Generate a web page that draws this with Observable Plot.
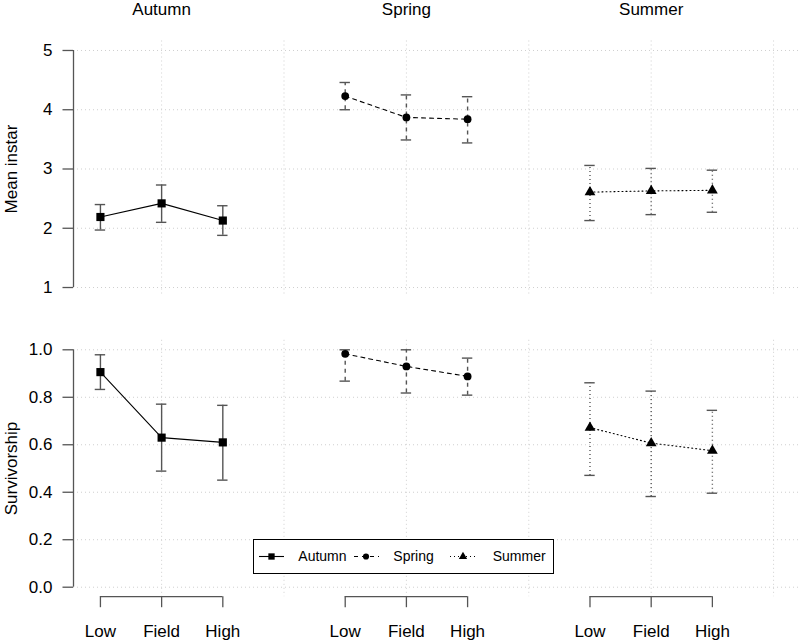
<!DOCTYPE html>
<html>
<head>
<meta charset="utf-8">
<script src="https://cdn.jsdelivr.net/npm/d3@7"></script>
<script src="https://cdn.jsdelivr.net/npm/@observablehq/plot@0.6"></script>
<style>
  body { margin: 0; background: #fff; }
  #wrap { position: relative; width: 800px; height: 641px; overflow: hidden; }
  #wrap svg { display: block; }
  #legend { position: absolute; left: 0; top: 0; }
</style>
</head>
<body>
<div id="wrap"></div>
<script>
// ---- data ----
const seasons = ["Autumn", "Spring", "Summer"];
const treatments = ["Low", "Field", "High"];
const xPositions = [1, 2, 3, 5, 6, 7, 9, 10, 11];

const instarMean  = [2.19, 2.42, 2.13, 4.23, 3.87, 3.84, 2.61, 2.63, 2.64];
const instarLower = [1.97, 2.10, 1.88, 4.00, 3.49, 3.44, 2.13, 2.23, 2.27];
const instarUpper = [2.40, 2.73, 2.38, 4.46, 4.25, 4.22, 3.06, 3.01, 2.98];

const survMean  = [0.906, 0.630, 0.610, 0.983, 0.930, 0.888, 0.672, 0.607, 0.575];
const survLower = [0.833, 0.489, 0.451, 0.868, 0.818, 0.809, 0.471, 0.382, 0.396];
const survUpper = [0.979, 0.771, 0.766, 1.000, 1.000, 0.965, 0.861, 0.826, 0.745];

const instarTicks = [1, 2, 3, 4, 5];
const survTicks = [0, 0.2, 0.4, 0.6, 0.8, 1.0];
const survTickLabels = ["0.0", "0.2", "0.4", "0.6", "0.8", "1.0"];
const gridXTicks = [2, 4, 6, 8, 10, 12];

// ---- styles ----
const font = "'Liberation Sans', Arial, Helvetica, sans-serif";
const gridColor = "#cfcfcf";
const axisColor = "#555";
const barColor = "#555";
const dash = {Autumn: undefined, Spring: "4,4", Summer: "1,3"};
const sym = {Autumn: "square", Spring: "circle", Summer: "triangle"};
const rad = {Autumn: 4.6, Spring: 3.9, Summer: 4.0};
const xDomain = [0.56, 12.44];
const capHalf = 0.085;

function rowsFor(mean, lower, upper) {
  return xPositions.map((x, i) => ({
    x, season: seasons[Math.floor(i / 3)], treatment: treatments[i % 3],
    mean: mean[i], lower: lower[i], upper: upper[i]
  }));
}

function panel({rows, yDomain, yTicks, yTickFormat, yLabel, height, marginTop, marginBottom, isTop}) {
  const marks = [
    Plot.ruleY(yTicks, {stroke: gridColor, strokeDasharray: "1,3", strokeWidth: 1}),
    Plot.ruleX(gridXTicks, {stroke: gridColor, strokeDasharray: "1,3", strokeWidth: 1})
  ];
  for (const s of seasons) {
    const d = rows.filter(r => r.season === s);
    marks.push(Plot.ruleX(d, {x: "x", y1: "lower", y2: "upper", stroke: barColor, strokeWidth: 1.4, strokeDasharray: dash[s]}));
    marks.push(Plot.ruleY(d, {y: "lower", x1: r => r.x - capHalf, x2: r => r.x + capHalf, stroke: barColor, strokeWidth: 1.4}));
    marks.push(Plot.ruleY(d, {y: "upper", x1: r => r.x - capHalf, x2: r => r.x + capHalf, stroke: barColor, strokeWidth: 1.4}));
    marks.push(Plot.line(d, {x: "x", y: "mean", stroke: "black", strokeWidth: 1.1, strokeDasharray: dash[s]}));
    marks.push(Plot.dot(d, {x: "x", y: "mean", symbol: sym[s], r: rad[s], fill: "black", stroke: null}));
  }
  // y axis
  marks.push(Plot.ruleX([xDomain[0]], {y1: yTicks[0], y2: yTicks[yTicks.length - 1], stroke: axisColor, strokeWidth: 1.3}));
  marks.push(Plot.axisY(yTicks, {anchor: "left", tickSize: 10.5, tickPadding: 10.5, tickFormat: yTickFormat, label: null,
    stroke: axisColor, strokeWidth: 1.3, fill: "black", fontSize: 17}));
  marks.push(Plot.text([yLabel], {text: d => d, frameAnchor: "left", textAnchor: "middle", dx: -57, rotate: -90,
    lineAnchor: "bottom", fontSize: 17, fill: "black"}));

  if (isTop) {
    const titles = seasons.map((s, i) => ({s, x: xPositions[i * 3 + 1]}));
    marks.push(Plot.text(titles, {x: "x", text: "s", frameAnchor: "top", dy: -31, lineAnchor: "middle", fontSize: 17, fill: "black"}));
  } else {
    const groups = seasons.map((s, i) => ({x1: xPositions[i * 3], x2: xPositions[i * 3 + 2]}));
    marks.push(Plot.ruleY(groups, {y: () => yDomain[0], x1: "x1", x2: "x2", stroke: axisColor, strokeWidth: 1.3}));
    marks.push(Plot.axisX(xPositions, {anchor: "bottom", tickSize: 11, tickPadding: 17,
      tickFormat: d => treatments[xPositions.indexOf(d) % 3], label: null,
      stroke: axisColor, strokeWidth: 1.3, fill: "black", fontSize: 17}));
  }

  return Plot.plot({
    width: 800,
    height,
    marginLeft: 73,
    marginRight: 0,
    marginTop,
    marginBottom,
    style: {fontFamily: font, fontSize: "17px", background: "white", color: "black", overflow: "visible"},
    x: {domain: xDomain, axis: isTop ? null : undefined},
    y: {domain: yDomain},
    marks
  });
}

const wrapEl = document.getElementById("wrap");

const topChart = panel({
  rows: rowsFor(instarMean, instarLower, instarUpper),
  yDomain: [0.84, 5.16],
  yTicks: instarTicks,
  yTickFormat: d => String(d),
  yLabel: "Mean instar",
  height: 320, marginTop: 40.5, marginBottom: 23.5, isTop: true
});
wrapEl.appendChild(topChart);

const bottomChart = panel({
  rows: rowsFor(survMean, survLower, survUpper),
  yDomain: [-0.04, 1.04],
  yTicks: survTicks,
  yTickFormat: d => survTickLabels[survTicks.indexOf(d)],
  yLabel: "Survivorship",
  height: 321, marginTop: 19.8, marginBottom: 44.8, isTop: false
});
wrapEl.appendChild(bottomChart);

// ---- legend (overlay) ----
const lg = d3.select(wrapEl).append("svg")
  .attr("id", "legend").attr("width", 800).attr("height", 641)
  .style("font-family", font);
lg.append("rect").attr("x", 253.5).attr("y", 539.5).attr("width", 300).attr("height", 34)
  .attr("fill", "white").attr("stroke", "black").attr("stroke-width", 1);
const legendItems = [
  {s: "Autumn", x0: 259, sx: 271.5, tx: 298.3},
  {s: "Spring", x0: 354, sx: 366, tx: 393.3},
  {s: "Summer", x0: 450, sx: 463, tx: 492.7}
];
const ly = 556.5;
for (const it of legendItems) {
  lg.append("line").attr("x1", it.x0).attr("x2", it.x0 + 25).attr("y1", ly).attr("y2", ly)
    .attr("stroke", "black").attr("stroke-width", 1.1).attr("stroke-dasharray", dash[it.s] || null);
  const symType = {square: d3.symbolSquare, circle: d3.symbolCircle, triangle: d3.symbolTriangle}[sym[it.s]];
  const size = {Autumn: 40, Spring: 30, Summer: 30}[it.s];
  lg.append("path").attr("d", d3.symbol(symType, size)()).attr("transform", `translate(${it.sx},${ly})`).attr("fill", "black");
  lg.append("text").attr("x", it.tx).attr("y", ly).attr("dy", "0.35em").attr("font-size", 14).attr("fill", "black").text(it.s);
}
</script>
</body>
</html>
